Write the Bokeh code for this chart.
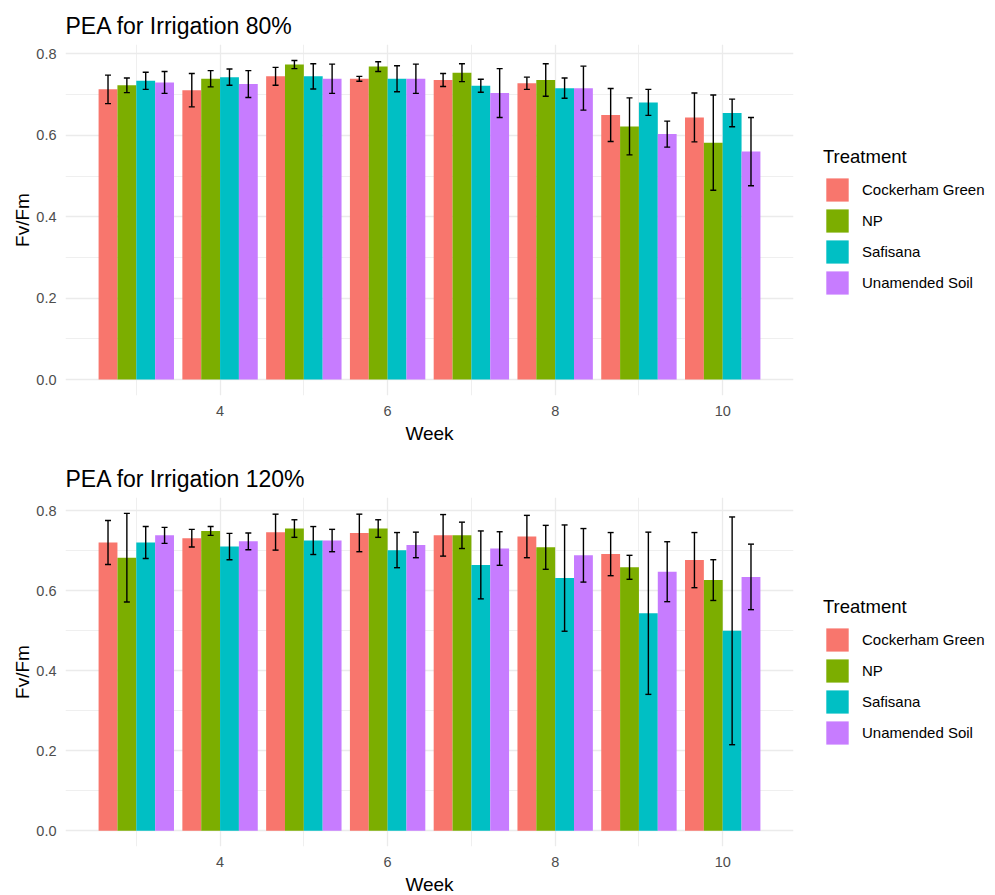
from bokeh.plotting import figure
from bokeh.layouts import column
from bokeh.models import (ColumnDataSource, Range1d, FixedTicker, Legend, LegendItem,
                          Whisker, TeeHead, CustomJSTickFormatter)
from bokeh.embed import file_html
from bokeh.resources import INLINE

weeks = [3, 4, 5, 6, 7, 8, 9, 10]
treatments = ["Cockerham Green", "NP", "Safisana", "Unamended Soil"]
colors = ["#F8766D", "#7CAE00", "#00BFC4", "#C77CFF"]

# Irrigation 80%: mean Fv/Fm and standard error per treatment, weeks 3..10
mean_80_cg = [0.713, 0.711, 0.745, 0.739, 0.736, 0.728, 0.650, 0.644]
mean_80_np = [0.723, 0.739, 0.774, 0.769, 0.754, 0.736, 0.622, 0.582]
mean_80_saf = [0.734, 0.743, 0.745, 0.739, 0.722, 0.716, 0.681, 0.655]
mean_80_una = [0.730, 0.726, 0.739, 0.739, 0.704, 0.716, 0.603, 0.560]
se_80_cg = [0.035, 0.041, 0.022, 0.006, 0.016, 0.015, 0.065, 0.060]
se_80_np = [0.018, 0.020, 0.010, 0.012, 0.022, 0.040, 0.070, 0.117]
se_80_saf = [0.021, 0.020, 0.031, 0.032, 0.016, 0.025, 0.032, 0.034]
se_80_una = [0.027, 0.033, 0.036, 0.036, 0.060, 0.054, 0.032, 0.084]

# Irrigation 120%
mean_120_cg = [0.721, 0.732, 0.747, 0.745, 0.739, 0.736, 0.692, 0.677]
mean_120_np = [0.683, 0.750, 0.756, 0.756, 0.739, 0.709, 0.659, 0.627]
mean_120_saf = [0.721, 0.711, 0.726, 0.702, 0.665, 0.632, 0.544, 0.500]
mean_120_una = [0.739, 0.724, 0.726, 0.715, 0.706, 0.689, 0.648, 0.635]
se_120_cg = [0.055, 0.022, 0.045, 0.047, 0.052, 0.053, 0.054, 0.069]
se_120_np = [0.111, 0.011, 0.022, 0.022, 0.033, 0.055, 0.030, 0.051]
se_120_saf = [0.040, 0.033, 0.035, 0.044, 0.085, 0.133, 0.203, 0.285]
se_120_una = [0.020, 0.021, 0.028, 0.032, 0.042, 0.067, 0.075, 0.082]

FONT = "Liberation Sans"
GRID = "#EBEBEB"
GROUP_W = 0.9
BAR_W = GROUP_W / len(treatments)


def panel(title, means, ses, frame_h, bottom_border, legend_y):
    top_val = max(m + s for ms, ss in zip(means, ses) for m, s in zip(ms, ss))
    y_pad = 0.05 * top_val
    x_lo = min(weeks) - GROUP_W / 2
    x_hi = max(weeks) + GROUP_W / 2
    x_pad = 0.05 * (x_hi - x_lo)

    p = figure(frame_width=728, frame_height=frame_h,
               output_backend="svg", toolbar_location=None,
               x_range=Range1d(x_lo - x_pad, x_hi + x_pad),
               y_range=Range1d(-y_pad, top_val + y_pad),
               min_border_left=65, min_border_right=202, min_border_top=44,
               min_border_bottom=bottom_border)
    p.outline_line_color = None
    p.background_fill_color = "white"
    p.border_fill_color = "white"

    p.title.text = title
    p.title.text_font = FONT
    p.title.text_font_size = "23px"
    p.title.text_font_style = "normal"
    p.title.text_color = "black"
    p.title.standoff = 12

    p.xaxis.ticker = FixedTicker(ticks=[4, 6, 8, 10], minor_ticks=[3, 5, 7, 9])
    p.yaxis.ticker = FixedTicker(ticks=[0.0, 0.2, 0.4, 0.6, 0.8],
                                 minor_ticks=[0.1, 0.3, 0.5, 0.7])
    p.yaxis.formatter = CustomJSTickFormatter(code="return tick.toFixed(1);")

    for ax in (p.xaxis[0], p.yaxis[0]):
        ax.axis_line_color = None
        ax.major_tick_line_color = None
        ax.minor_tick_line_color = None
        ax.major_tick_in = 0
        ax.major_tick_out = 0
        ax.minor_tick_in = 0
        ax.minor_tick_out = 0
        ax.major_label_text_font = FONT
        ax.major_label_text_font_size = "14.5px"
        ax.major_label_text_color = "#4D4D4D"
        ax.axis_label_text_font = FONT
        ax.axis_label_text_font_size = "19px"
        ax.axis_label_text_font_style = "normal"
        ax.axis_label_text_color = "black"
    p.xaxis.axis_label = "Week"
    p.yaxis.axis_label = "Fv/Fm"
    p.xaxis.major_label_standoff = 10
    p.xaxis.axis_label_standoff = 4
    p.yaxis.major_label_standoff = 9
    p.yaxis.axis_label_standoff = 0

    for g in (p.xgrid[0], p.ygrid[0]):
        g.grid_line_color = GRID
        g.grid_line_width = 1.3
        g.minor_grid_line_color = GRID
        g.minor_grid_line_width = 0.8

    items = []
    for i, (name, col) in enumerate(zip(treatments, colors)):
        off = (i - (len(treatments) - 1) / 2) * BAR_W
        xs = [w + off for w in weeks]
        src = ColumnDataSource(dict(
            x=xs, top=means[i],
            upper=[m + s for m, s in zip(means[i], ses[i])],
            lower=[m - s for m, s in zip(means[i], ses[i])],
        ))
        r = p.vbar(x="x", top="top", bottom=0, width=BAR_W, source=src,
                   fill_color=col, line_color=None)
        items.append(LegendItem(label=name, renderers=[r]))
        wk = Whisker(base="x", upper="upper", lower="lower", source=src,
                     line_color="black", line_width=1.4, level="overlay",
                     upper_head=TeeHead(size=6, line_color="black", line_width=1.4),
                     lower_head=TeeHead(size=6, line_color="black", line_width=1.4))
        p.add_layout(wk)

    # legend in the right-hand border, shifted away from the frame edge
    leg = Legend(items=items, location=(30, legend_y), orientation="vertical")
    leg.title = "Treatment"
    leg.title_text_font = FONT
    leg.title_text_font_size = "18.5px"
    leg.title_text_font_style = "normal"
    leg.title_text_color = "black"
    leg.title_standoff = 7
    leg.label_text_font = FONT
    leg.label_text_font_size = "15px"
    leg.label_text_color = "black"
    leg.glyph_width = 28
    leg.glyph_height = 29
    leg.label_height = 29
    leg.spacing = 2
    leg.label_standoff = 11
    leg.border_line_color = None
    leg.background_fill_alpha = 0
    leg.margin = 0
    leg.padding = 0
    p.add_layout(leg, "right")
    return p


p80 = panel("PEA for Irrigation 80%",
            [mean_80_cg, mean_80_np, mean_80_saf, mean_80_una],
            [se_80_cg, se_80_np, se_80_saf, se_80_una], 351, 58, 98)
p120 = panel("PEA for Irrigation 120%",
             [mean_120_cg, mean_120_np, mean_120_saf, mean_120_una],
             [se_120_cg, se_120_np, se_120_saf, se_120_una], 349, 49, 99)

layout = column(p80, p120, spacing=0)
open("out.html", "w").write(file_html(layout, INLINE))
